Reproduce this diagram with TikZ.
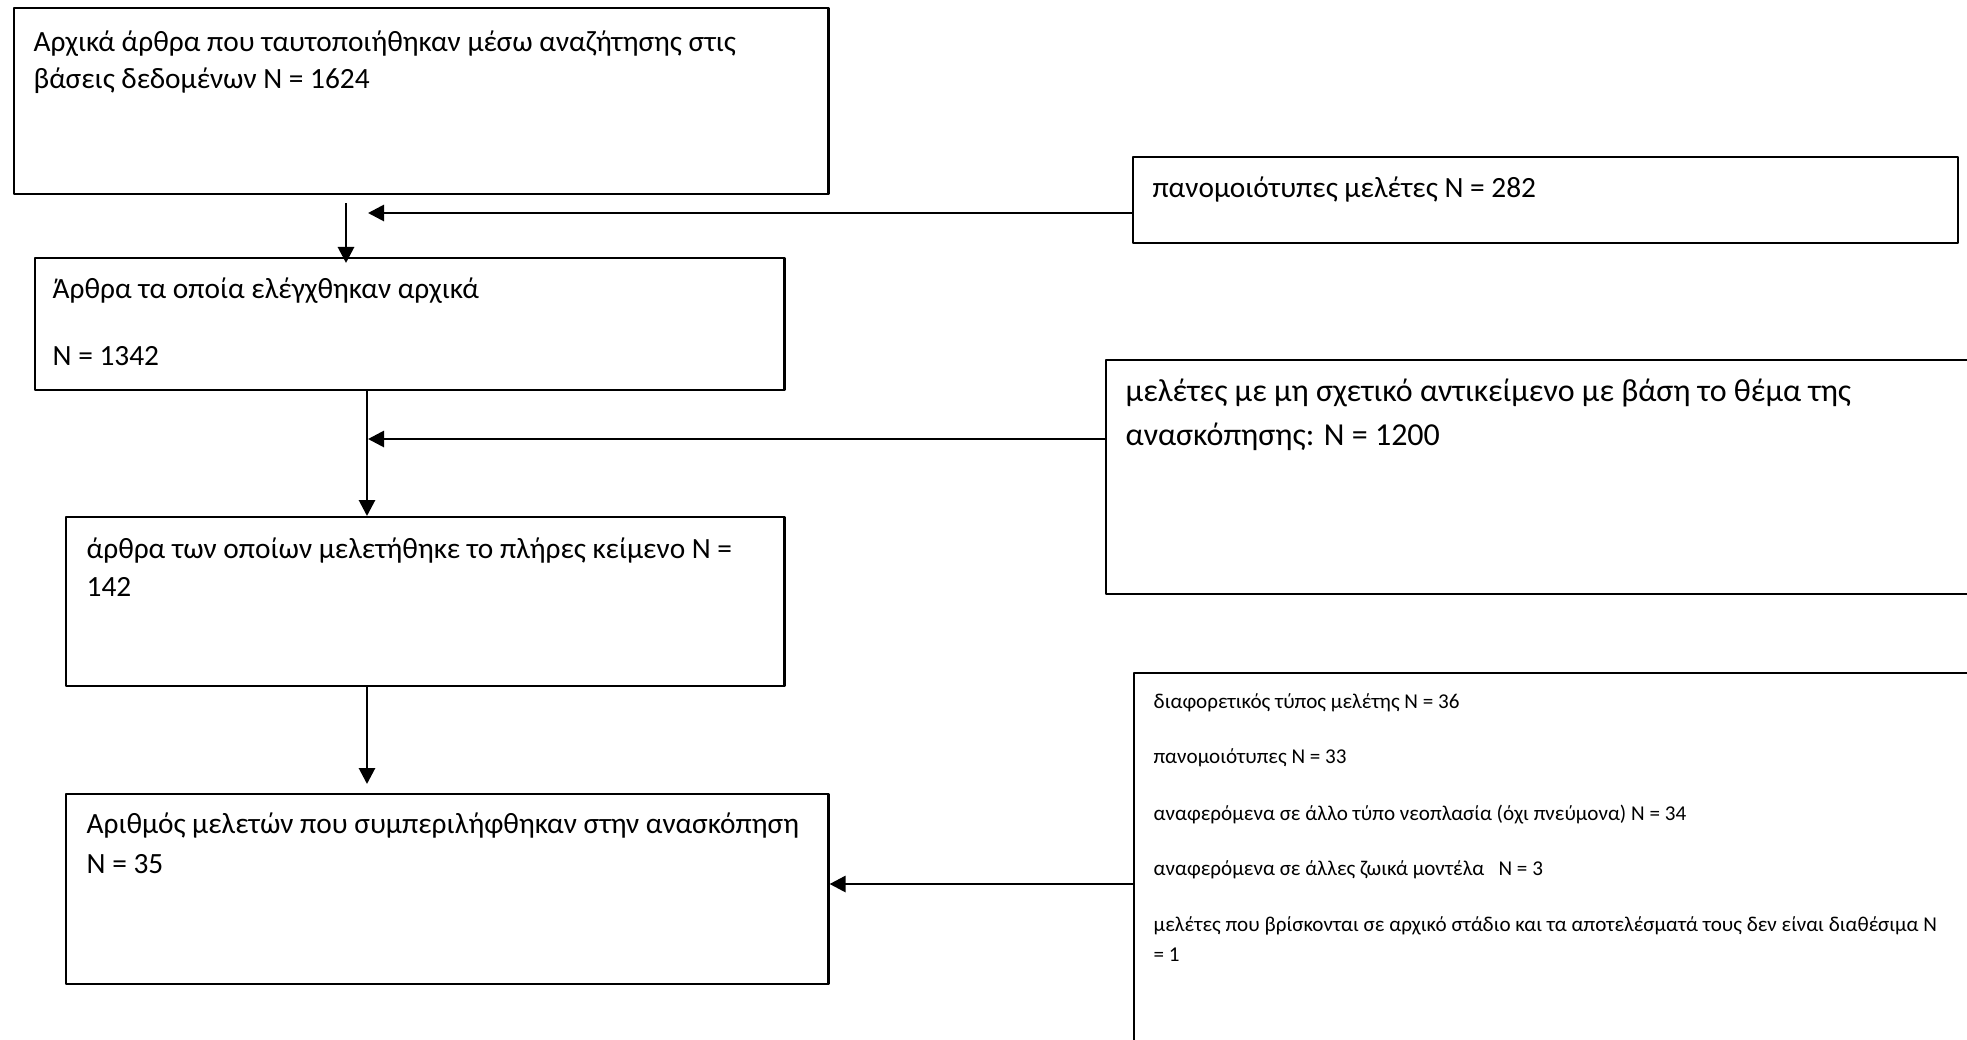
\documentclass[tikz,border=0pt]{standalone}
\usepackage{fontspec}
\setmainfont{Carlito}
\usetikzlibrary{arrows.meta,calc}

\begin{document}
\begin{tikzpicture}[x=0.01cm,y=-0.01cm,line join=round,
  stagebox/.style={draw,line width=0.6pt,inner sep=0pt,anchor=north west},
  txt/.style={anchor=mid west,inner sep=0pt,font=\fontsize{8.35}{10}\selectfont},
  txtlarge/.style={txt,font=\fontsize{9.1}{11}\selectfont},
  smalltxt/.style={anchor=mid west,inner sep=0pt,font=\fontsize{6}{7.2}\selectfont},
  flow/.style={line width=0.8pt,-{Triangle[length=0.16cm,width=0.16cm]}}]
  \useasboundingbox (0,0) rectangle (1967,1039);
  \clip (0,0) rectangle (1967,1039);
  % main column
  \node[stagebox,minimum width=8.14cm,minimum height=1.86cm] (init) at (13,7) {};
  \node[stagebox,minimum width=7.49cm,minimum height=1.32cm] (screened) at (34,257) {};
  \node[stagebox,minimum width=7.18cm,minimum height=1.69cm] (fulltext) at (65,516) {};
  \node[stagebox,minimum width=7.62cm,minimum height=1.90cm] (included) at (65,793) {};
  % exclusions (the lower two run off the page)
  \node[stagebox,minimum width=8.24cm,minimum height=0.86cm] (dup) at (1132,156) {};
  \node[stagebox,minimum width=8.80cm,minimum height=2.34cm] (irrel) at (1105,359) {};
  \node[stagebox,minimum width=8.60cm,minimum height=4.00cm] (excl) at (1133,672) {};
  % texts
  \node[txt] (init-1) at (33,43) {Αρχικά άρθρα που ταυτοποιήθηκαν μέσω αναζήτησης στις};
  \node[txt] (init-2) at (33,80) {βάσεις δεδομένων N = 1624};
  \node[txt] (screened-1) at (52,290) {Άρθρα τα οποία ελέγχθηκαν αρχικά};
  \node[txt] (screened-2) at (52,357) {N = 1342};
  \node[txt] (fulltext-1) at (86,550) {άρθρα των οποίων μελετήθηκε το πλήρες κείμενο N =};
  \node[txt] (fulltext-2) at (86,588) {142};
  \node[txt] (included-1) at (86,825) {Αριθμός μελετών που συμπεριλήφθηκαν στην ανασκόπηση};
  \node[txt] (included-2) at (86,865) {N = 35};
  \node[txt] (dup-1) at (1152,189) {πανομοιότυπες μελέτες N = 282};
  \node[txtlarge] (irrel-1) at (1125,393) {μελέτες με μη σχετικό αντικείμενο με βάση το θέμα της};
  \node[txtlarge] (irrel-2) at (1125,437) {ανασκόπησης: N = 1200};
  \node[smalltxt] (excl-1) at (1153,700) {διαφορετικός τύπος μελέτης N = 36};
  \node[smalltxt] (excl-2) at (1153,755) {πανομοιότυπες N = 33};
  \node[smalltxt] (excl-3) at (1153,812) {αναφερόμενα σε άλλο τύπο νεοπλασία (όχι πνεύμονα) N = 34};
  \node[smalltxt] (excl-4) at (1153,867) {αναφερόμενα σε άλλες ζωικά μοντέλα\ \ \ N = 3};
  \node[smalltxt] (excl-5) at (1153,923) {μελέτες που βρίσκονται σε αρχικό στάδιο και τα αποτελέσματά τους δεν είναι διαθέσιμα N};
  \node[smalltxt] (excl-6) at (1153,953) {= 1};
  % connectors
  \coordinate (c1) at (346,0);
  \coordinate (c2) at (367,0);
  \draw[flow] ($(c1 |- init.south)+(0,8)$) -- ($(c1 |- screened.north)+(0,6)$);
  \draw[flow] (c2 |- screened.south) -- (c2 |- fulltext.north);
  \draw[flow] (c2 |- fulltext.south) -- ($(c2 |- included.north)+(0,-9)$);
  \coordinate (m1) at (368,213);
  \coordinate (m2) at (368,439);
  \coordinate (m3) at (0,884);
  \draw[flow] (m1 -| dup.west) -- (m1);
  \draw[flow] (m2 -| irrel.west) -- (m2);
  \draw[flow] (m3 -| excl.west) -- (m3 -| included.east);
\end{tikzpicture}
\end{document}
